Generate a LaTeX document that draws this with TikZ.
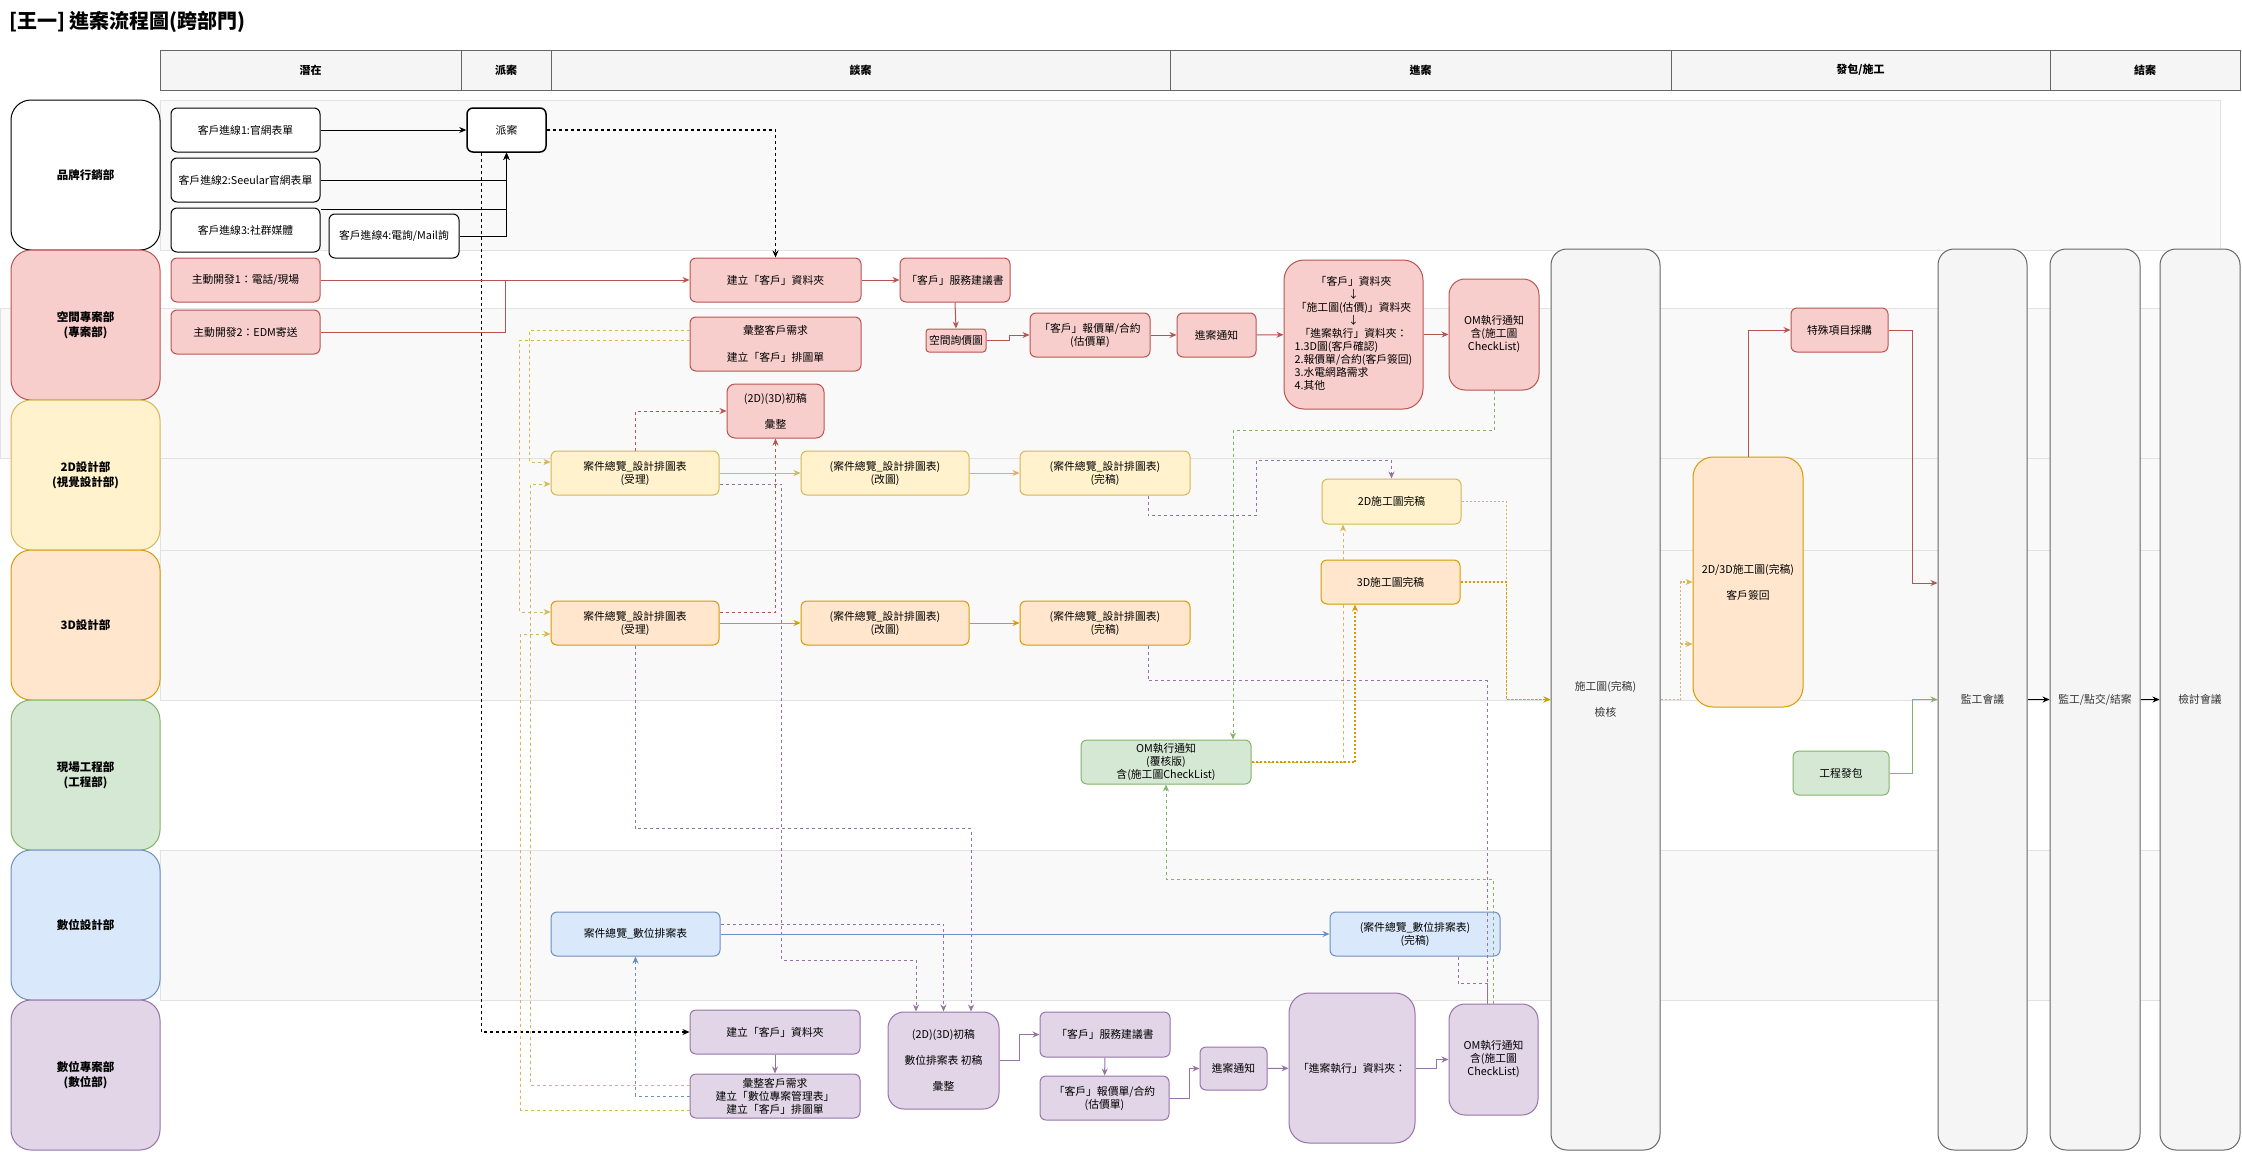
\documentclass[tikz,border=0pt]{standalone}
\usepackage{fontspec}
\setmainfont{Noto Sans CJK TC}
\usetikzlibrary{arrows.meta,positioning,calc}
\definecolor{redfill}{HTML}{F8CECC}
\definecolor{redline}{HTML}{B85450}
\definecolor{yelfill}{HTML}{FFF2CC}
\definecolor{yelline}{HTML}{D6B656}
\definecolor{orgfill}{HTML}{FFE6CC}
\definecolor{orgline}{HTML}{D79B00}
\definecolor{grnfill}{HTML}{D5E8D4}
\definecolor{grnline}{HTML}{82B366}
\definecolor{blufill}{HTML}{DAE8FC}
\definecolor{bluline}{HTML}{6C8EBF}
\definecolor{purfill}{HTML}{E1D5E7}
\definecolor{purline}{HTML}{9673A6}
\definecolor{grayfill}{HTML}{F5F5F5}
\definecolor{grayline}{HTML}{666666}
\definecolor{textgray}{HTML}{333333}
\definecolor{bandfill}{HTML}{F9F9F9}
\definecolor{bandline}{HTML}{E2E2E2}
\newcommand{\boxfont}{\fontsize{10.8}{13}\selectfont}

\begin{document}
\begin{tikzpicture}[
  x=1pt, y=-1pt,
  band/.style={fill=bandfill, draw=bandline, line width=0.8pt},
  head/.style={draw=grayline, fill=grayfill, minimum height=40pt, inner sep=0pt,
               font=\fontsize{11}{14}\selectfont\bfseries, line width=0.8pt},
  lane/.style={draw, rounded corners=20pt, minimum width=149pt, minimum height=150pt,
               align=center, font=\fontsize{11.5}{15}\selectfont\bfseries, line width=1pt},
  box/.style={draw, rounded corners=6pt, minimum height=44pt, inner sep=1pt,
              align=center, font=\boxfont, line width=1pt},
  col/.style={box, draw=grayline, fill=grayfill, rounded corners=16pt,
              minimum height=901pt, text=textgray},
  whitebox/.style={box, fill=white, draw=black},
  redbox/.style={box, fill=redfill, draw=redline},
  yelbox/.style={box, fill=yelfill, draw=yelline},
  orgbox/.style={box, fill=orgfill, draw=orgline},
  grnbox/.style={box, fill=grnfill, draw=grnline},
  blubox/.style={box, fill=blufill, draw=bluline},
  purbox/.style={box, fill=purfill, draw=purline},
  link/.style={line width=1pt},
  arrow/.style={link, -{Stealth[length=7pt,width=6pt]}},
  dline/.style={dash pattern=on 3pt off 3pt},
  dotline/.style={line width=1.8pt, dash pattern=on 2pt off 2pt}
]
\useasboundingbox (0,0) rectangle (2242,1151);

\draw[band] (160,100) rectangle (2220,250);
\draw[band] (0,308) rectangle (2220,458);
\draw[band] (160,458) rectangle (2220,550);
\draw[band] (160,550) rectangle (2220,700);
\draw[band] (160,850) rectangle (2220,1000);

\node[anchor=west, inner sep=0pt, font=\fontsize{20}{24}\selectfont\bfseries] (title) at (9,22) {[王一] 進案流程圖(跨部門)};

\node[head, minimum width=301pt] (hPotential) at (310.5,70) {潛在};
\node[head, minimum width=90pt] (hDispatch) at (506,70) {派案};
\node[head, minimum width=619pt] (hTalk) at (860.5,70) {談案};
\node[head, minimum width=501pt] (hEnter) at (1420.5,70) {進案};
\node[head, minimum width=379pt] (hBuild) at (1860.5,70) {發包/施工};
\node[head, minimum width=190pt] (hClose) at (2145,70) {結案};

\node[lane, fill=white, draw=black] (lBrand) at (85.5,175) {品牌行銷部};
\node[lane, fill=redfill, draw=redline] (lSpace) at (85.5,325) {空間專案部\\(專案部)};
\node[lane, fill=yelfill, draw=yelline] (l2D) at (85.5,475) {2D設計部\\(視覺設計部)};
\node[lane, fill=orgfill, draw=orgline] (l3D) at (85.5,625) {3D設計部};
\node[lane, fill=grnfill, draw=grnline] (lSite) at (85.5,775) {現場工程部\\(工程部)};
\node[lane, fill=blufill, draw=bluline] (lDD) at (85.5,925) {數位設計部};
\node[lane, fill=purfill, draw=purline] (lDP) at (85.5,1075) {數位專案部\\(數位部)};

\node[col, minimum width=109pt] (colCheck) at (1605.5,699.5) {施工圖(完稿)\\[13pt]檢核};
\node[col, minimum width=89pt] (colMeet) at (1982.5,699.5) {監工會議};
\node[col, minimum width=90pt] (colHand) at (2095,699.5) {監工/點交/結案};
\node[col, minimum width=80pt] (colReview) at (2200,699.5) {檢討會議};

\node[whitebox, minimum width=149pt] (lead1) at (245.5,130) {客戶進線1:官網表單};
\node[whitebox, minimum width=149pt] (lead2) at (245.5,180) {客戶進線2:Seeular官網表單};
\node[whitebox, minimum width=149pt] (lead3) at (245.5,230) {客戶進線3:社群媒體};
\node[whitebox, minimum width=130pt] (lead4) at (394,236) {客戶進線4:電詢/Mail詢};
\node[whitebox, minimum width=79pt, line width=1.5pt] (dispatch) at (506.5,130) {派案};

\node[redbox, minimum width=149pt] (dev1) at (245.5,280) {主動開發1：電話/現場};
\node[redbox, minimum width=149pt] (dev2) at (245.5,332) {主動開發2：EDM寄送};
\node[redbox, minimum width=171pt] (spFolder) at (775.5,280) {建立「客戶」資料夾};
\node[redbox, minimum width=110pt] (spProposal) at (955,280) {「客戶」服務建議書};
\node[redbox, minimum width=171pt, minimum height=54pt] (spNeeds) at (775.5,344) {彙整客戶需求\\[14pt]建立「客戶」排圖單};
\node[redbox, minimum width=60pt, minimum height=23pt, rounded corners=3pt] (spInquiry) at (956,340.5) {空間詢價圖};
\node[redbox, minimum width=120pt] (spQuote) at (1090,335) {「客戶」報價單/合約\\(估價單)};
\node[redbox, minimum width=79pt] (spNotice) at (1216.5,335) {進案通知};
\node[redbox, minimum width=139pt, minimum height=149pt, rounded corners=20pt] (spFolders) at (1353.5,334.5)
  {「客戶」資料夾\\↓\\「施工圖(估價)」資料夾\\↓\\「進案執行」資料夾：\\
   \begin{tabular}[t]{@{}l@{}}1.3D圖(客戶確認)\\2.報價單/合約(客戶簽回)\\3.水電網路需求\\4.其他\end{tabular}};
\node[redbox, minimum width=90pt, minimum height=111pt, rounded corners=16pt] (spOM) at (1494,334.5) {OM執行通知\\含(施工圖\\CheckList)};
\node[redbox, minimum width=97pt, minimum height=54pt, rounded corners=8pt] (spDraft) at (775.5,411) {(2D)(3D)初稿\\[13pt]彙整};
\node[redbox, minimum width=97pt] (special) at (1839.5,330) {特殊項目採購};

\node[yelbox, minimum width=168pt] (d2Accept) at (635,473) {案件總覽\_設計排圖表\\(受理)};
\node[yelbox, minimum width=168pt] (d2Revise) at (885,473) {(案件總覽\_設計排圖表)\\(改圖)};
\node[yelbox, minimum width=170pt] (d2Final) at (1105,473) {(案件總覽\_設計排圖表)\\(完稿)};
\node[yelbox, minimum width=139pt, minimum height=45pt] (d2Build) at (1391.5,501.5) {2D施工圖完稿};

\node[orgbox, minimum width=168pt] (d3Accept) at (635,623) {案件總覽\_設計排圖表\\(受理)};
\node[orgbox, minimum width=168pt] (d3Revise) at (885,623) {(案件總覽\_設計排圖表)\\(改圖)};
\node[orgbox, minimum width=170pt] (d3Final) at (1105,623) {(案件總覽\_設計排圖表)\\(完稿)};
\node[orgbox, minimum width=139pt] (d3Build) at (1390.5,582) {3D施工圖完稿};
\node[orgbox, minimum width=110pt, minimum height=250pt, rounded corners=20pt] (signBack) at (1748,582) {2D/3D施工圖(完稿)\\[13pt]客戶簽回};

\node[grnbox, minimum width=170pt] (siteOM) at (1166,762) {OM執行通知\\(覆核版)\\含(施工圖CheckList)};
\node[grnbox, minimum width=96pt] (contract) at (1841,773) {工程發包};

\node[blubox, minimum width=169pt] (ddSched) at (635.5,934) {案件總覽\_數位排案表};
\node[blubox, minimum width=170pt] (ddFinal) at (1415,934) {(案件總覽\_數位排案表)\\(完稿)};

\node[purbox, minimum width=170pt] (dpFolder) at (775,1032) {建立「客戶」資料夾};
\node[purbox, minimum width=170pt] (dpNeeds) at (775,1096) {彙整客戶需求\\建立「數位專案管理表」\\建立「客戶」排圖單};
\node[purbox, minimum width=111pt, minimum height=97pt, rounded corners=16pt] (dpDraft) at (943.5,1060.5) {(2D)(3D)初稿\\[13pt]數位排案表 初稿\\[13pt]彙整};
\node[purbox, minimum width=130pt, minimum height=45pt] (dpProposal) at (1105,1034.5) {「客戶」服務建議書};
\node[purbox, minimum width=129pt] (dpQuote) at (1104.5,1098) {「客戶」報價單/合約\\(估價單)};
\node[purbox, minimum width=67pt, minimum height=43pt] (dpNotice) at (1233.5,1068.5) {進案通知};
\node[purbox, minimum width=126pt, minimum height=150pt, rounded corners=20pt] (dpFolders) at (1352,1068) {「進案執行」資料夾：};
\node[purbox, minimum width=89pt, minimum height=111pt, rounded corners=16pt] (dpOM) at (1493.5,1059.5) {OM執行通知\\含(施工圖\\CheckList)};

\draw[arrow] (lead1.east) -- (dispatch.west);
\draw[arrow] (lead2.east) -| (dispatch.south);
\draw[arrow] ([yshift=-2pt]lead3.north east) -| (dispatch.south);
\draw[arrow] (lead4.east) -| (dispatch.south);
\draw[arrow, dline, line width=1.2pt] (dispatch.east) -| (spFolder.north);
\draw[arrow, dline, line width=1.2pt] ([xshift=-25pt]dispatch.south) |- (dpFolder.west);

\draw[arrow, redline] (dev1.east) -- (spFolder.west);
\draw[link, redline] (dev2.east) -| ($(dev1.east)!0.5!(spFolder.west)$);
\draw[arrow, redline] (spFolder) -- (spProposal);
\draw[arrow, redline] (spProposal.south) -- (spInquiry.north);
\draw[arrow, redline] (spInquiry.east) -- ++(23,0) |- (spQuote.west);
\draw[arrow, redline] (spQuote) -- (spNotice);
\draw[arrow, redline] (spNotice) -- (spFolders);
\draw[arrow, redline] (spFolders) -- (spOM);
\draw[arrow, redline, dline] (d2Accept.north) |- (spDraft.west);
\draw[arrow, redline, dline] ([yshift=11pt]d3Accept.east) -| (spDraft.south);
\draw[arrow, redline] (signBack.north) |- (special.west);
\draw[arrow, redline] (special.east) -- ++(24,0) |- ([yshift=116.5pt]colMeet.west);

\draw[arrow, yelline, dline] ([yshift=14pt]spNeeds.west) -- ++(-160,0) |- ([yshift=11pt]d2Accept.west);
\draw[arrow, yelline, dline] ([yshift=4pt]spNeeds.west) -- ++(-170,0) |- ([yshift=11pt]d3Accept.west);
\draw[arrow, yelline, dline] ([yshift=11pt]dpNeeds.west) -- ++(-159,0) |- ([yshift=-11pt]d2Accept.west);
\draw[arrow, yelline, dline] ([yshift=-14pt]dpNeeds.west) -- ++(-169,0) |- ([yshift=-11pt]d3Accept.west);

\draw[arrow, yelline] (d2Accept) -- (d2Revise);
\draw[arrow, yelline] (d2Revise) -- (d2Final);
\draw[arrow, orgline] (d3Accept) -- (d3Revise);
\draw[arrow, orgline] (d3Revise) -- (d3Final);

\draw[arrow, purline, dline] ([yshift=-11pt]d2Accept.east) -- ++(62,0) -- ++(0,476) -| ([xshift=-27.5pt]dpDraft.north);
\draw[arrow, purline, dline] (d3Accept.south) -- ++(0,183) -| ([xshift=27.5pt]dpDraft.north);
\draw[arrow, purline, dline] ([yshift=10pt]ddSched.east) -| (dpDraft.north);
\draw[arrow, purline, dline] ([xshift=43pt]d2Final.south) -- ++(0,20) -| ++(108,-55) -| (d2Build.north);
\draw[link, purline, dline] ([xshift=43pt]d3Final.south) -- ++(0,35) -| ([xshift=-6.5pt]dpOM.north);
\draw[link, purline, dline] ([xshift=43pt]ddFinal.south) -- ++(0,27) -| ([xshift=-6.5pt]dpOM.north);

\draw[arrow, purline] (dpFolder) -- (dpNeeds);
\draw[arrow, purline] (dpDraft.east) -- ++(20,0) |- (dpProposal.west);
\draw[arrow, purline] (dpProposal) -- (dpQuote);
\draw[arrow, purline] (dpQuote.east) -- ++(20,0) |- (dpNotice.west);
\draw[arrow, purline] (dpNotice) -- (dpFolders);
\draw[arrow, purline] (dpFolders.east) -- ++(21,0) |- (dpOM.west);

\draw[arrow, bluline] (ddSched) -- (ddFinal);
\draw[arrow, bluline, dline] (dpNeeds.west) -| (ddSched.south);

\draw[arrow, grnline, dline] (spOM.south) -- ++(0,40) -| ([xshift=67pt]siteOM.north);
\draw[arrow, grnline, dline] (dpOM.north) -- ++(0,-124) -| (siteOM.south);
\draw[arrow, grnline] (contract.east) -- ++(23,0) |- (colMeet.west);

\draw[link, yelline, dline] (siteOM.east) -| ([xshift=-47.5pt]d3Build.south);
\draw[arrow, yelline, dline] ([xshift=-47.5pt]d3Build.north) -- ([xshift=-47.5pt]d3Build.north |- d2Build.south);
\draw[arrow, orgline, dotline] (siteOM.east) -| ([xshift=-35.5pt]d3Build.south);
\draw[arrow, yelline, dotline] (d2Build.east) -- ++(45,0) |- (colCheck.west);
\draw[arrow, orgline, dotline] (d3Build.east) -- ++(46,0) |- (colCheck.west);
\draw[arrow, yelline, dotline] (colCheck.east) -- ++(20,0) |- ([yshift=-62pt]signBack.west);
\draw[arrow, yelline, dotline] (colCheck.east) -- ++(20,0) |- (signBack.west);

\draw[arrow, line width=1.5pt] (colMeet) -- (colHand);
\draw[arrow, line width=1.5pt] (colHand) -- (colReview);
\end{tikzpicture}
\end{document}
